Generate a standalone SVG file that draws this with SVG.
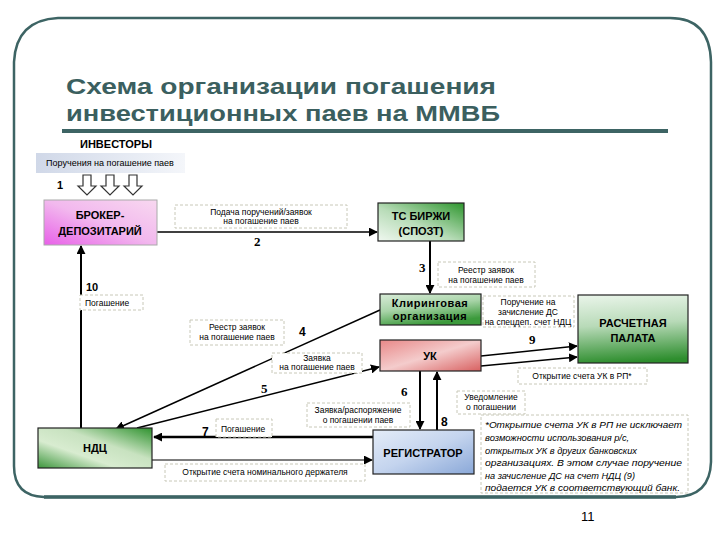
<svg xmlns="http://www.w3.org/2000/svg" width="720" height="540" viewBox="0 0 720 540">
<defs>
<style>
.t{font-family:"Liberation Sans",Arial,sans-serif;fill:#000}
.b{font-weight:bold}
.lbl{font-family:"Liberation Sans",Arial,sans-serif;font-size:8.5px;fill:#000;text-anchor:middle}
.dash{fill:#fff;stroke:#c8c8b8;stroke-width:1;stroke-dasharray:3,2}
.node{stroke:#222;stroke-width:1.2}
.num{font-family:"Liberation Serif","Times New Roman",serif;font-weight:bold;font-size:13px;fill:#000}
.c{fill:none;stroke:#000}
.note{font-family:"Liberation Sans",Arial,sans-serif;font-size:9.3px;font-style:italic;fill:#000}
.ttl{font-family:"Liberation Sans",Arial,sans-serif;font-weight:bold;font-size:22px;fill:#3b5f5f}
</style>
<marker id="ahb" viewBox="0 0 10 10" refX="9" refY="5" markerWidth="9" markerHeight="9" markerUnits="userSpaceOnUse" orient="auto"><path d="M0,0 L10,5 L0,10 z" fill="#000"/></marker>
<linearGradient id="gInv" x1="0" y1="0" x2="1" y2="0"><stop offset="0" stop-color="#d0d8e8"/><stop offset="1" stop-color="#f4f6fa"/></linearGradient>
<linearGradient id="gPink" x1="0" y1="1" x2="1" y2="0"><stop offset="0" stop-color="#e860e8"/><stop offset="0.5" stop-color="#f2b8ee"/><stop offset="1" stop-color="#f8d8f0"/></linearGradient>
<linearGradient id="gGreen1" x1="0" y1="1" x2="1" y2="0"><stop offset="0" stop-color="#f0f8f0"/><stop offset="0.45" stop-color="#b8dcb8"/><stop offset="1" stop-color="#2e962e"/></linearGradient>
<linearGradient id="gGreen2" x1="0" y1="0" x2="0.4" y2="1"><stop offset="0" stop-color="#d8ecd8"/><stop offset="0.5" stop-color="#a8d4a8"/><stop offset="1" stop-color="#3c9a3c"/></linearGradient>
<linearGradient id="gGreen3" x1="0.2" y1="0" x2="0.3" y2="1"><stop offset="0" stop-color="#e8f4e8"/><stop offset="0.45" stop-color="#b8dab8"/><stop offset="1" stop-color="#2e8e2e"/></linearGradient>
<linearGradient id="gNdc" x1="0" y1="1" x2="1" y2="0"><stop offset="0" stop-color="#3c963c"/><stop offset="0.35" stop-color="#d8ecd0"/><stop offset="0.6" stop-color="#c8e2c0"/><stop offset="1" stop-color="#2e922e"/></linearGradient>
<linearGradient id="gUk" x1="0" y1="0" x2="1" y2="1"><stop offset="0" stop-color="#e88888"/><stop offset="0.5" stop-color="#f4cccc"/><stop offset="1" stop-color="#d86060"/></linearGradient>
<linearGradient id="gReg" x1="0" y1="0" x2="1" y2="1"><stop offset="0" stop-color="#e4ecf8"/><stop offset="0.5" stop-color="#c4d4ee"/><stop offset="1" stop-color="#8aa8d8"/></linearGradient>
</defs>

<rect x="0" y="0" width="720" height="540" fill="#fff"/>
<!-- frame -->
<path d="M58,18 L670,18 Q710,18 711,62 L711,462 Q710,496 676,497 L44,497 Q14,496 14,466 L14,62 Q16,20 58,18 Z" fill="none" stroke="#3d6464" stroke-width="2.5"/>
<line x1="44" y1="497" x2="676" y2="497" stroke="#3d6464" stroke-width="3.5"/>

<!-- title -->
<g id="title">
<text class="ttl" x="66" y="94" textLength="430" lengthAdjust="spacingAndGlyphs">Схема организации погашения</text>
<text class="ttl" x="66" y="121" textLength="434" lengthAdjust="spacingAndGlyphs">инвестиционных паев на ММВБ</text>
<line x1="62" y1="131" x2="668" y2="131" stroke="#3d6464" stroke-width="4"/>
</g>

<!-- connectors -->
<g id="connectors">
<line class="c" x1="157" y1="232" x2="377" y2="232" stroke-width="1.5" marker-end="url(#ahb)"/>
<line class="c" x1="430" y1="241" x2="430" y2="293" stroke-width="2" marker-end="url(#ahb)"/>
<line class="c" x1="81" y1="428" x2="81" y2="246" stroke-width="2" marker-end="url(#ahb)"/>
<line class="c" x1="380" y1="310" x2="116" y2="429" stroke-width="1.5" marker-end="url(#ahb)"/>
<line class="c" x1="137" y1="428" x2="379" y2="367" stroke-width="1.5" marker-end="url(#ahb)"/>
<line class="c" x1="420" y1="371" x2="420" y2="429" stroke-width="2" marker-end="url(#ahb)"/>
<line class="c" x1="437" y1="430" x2="437" y2="372" stroke-width="2" marker-end="url(#ahb)"/>
<line class="c" x1="373" y1="437" x2="154" y2="437" stroke-width="2.5" marker-end="url(#ahb)"/>
<line class="c" x1="152" y1="460" x2="372" y2="460" stroke-width="1.2" marker-end="url(#ahb)"/>
<line class="c" x1="481" y1="356" x2="577" y2="346" stroke-width="1.5" marker-end="url(#ahb)"/>
<line class="c" x1="481" y1="366" x2="577" y2="357" stroke-width="1.5" marker-end="url(#ahb)"/>
<g fill="#fff" stroke="#333" stroke-width="1.2">
<path d="M83,175 L91,175 L91,186 L96,186 L87,195 L78,186 L83,186 Z"/>
<path d="M106,175 L114,175 L114,186 L119,186 L110,195 L101,186 L106,186 Z"/>
<path d="M129,175 L137,175 L137,186 L142,186 L133,195 L124,186 L129,186 Z"/>
</g>
</g>

<!-- labels -->
<g id="labels">
<text class="t b" x="80" y="148" font-size="11">ИНВЕСТОРЫ</text>
<rect x="36" y="153" width="149" height="20" fill="url(#gInv)"/>
<text class="t" x="110" y="166" font-size="9" text-anchor="middle">Поручения на погашение паев</text>
<text class="t b" x="57" y="189" font-size="11">1</text>

<rect class="dash" x="175" y="205" width="172" height="23"/>
<text class="lbl" x="261" y="215">Подача поручений/заявок</text>
<text class="lbl" x="261" y="224">на погашение паев</text>
<text class="num" x="254" y="246">2</text>

<text class="num" x="419" y="272">3</text>
<rect class="dash" x="438" y="262" width="97" height="25"/>
<text class="lbl" x="486" y="273">Реестр заявок</text>
<text class="lbl" x="486" y="283">на погашение паев</text>

<text class="t b" x="86" y="291" font-size="11">10</text>
<rect class="dash" x="80" y="295" width="63" height="15"/>
<text class="t" x="85" y="306" font-size="8.5">Погашение</text>

<rect class="dash" x="190" y="320" width="94" height="25"/>
<text class="lbl" x="237" y="330">Реестр заявок</text>
<text class="lbl" x="237" y="340">на погашение паев</text>
<text class="t b" x="299" y="336" font-size="12">4</text>

<rect class="dash" x="272" y="353" width="90" height="20"/>
<text class="lbl" x="317" y="361">Заявка</text>
<text class="lbl" x="317" y="370">на погашение паев</text>
<text class="num" x="261" y="393">5</text>

<text class="num" x="401" y="396">6</text>
<rect class="dash" x="307" y="403" width="103" height="24"/>
<text class="lbl" x="358" y="413">Заявка/распоряжение</text>
<text class="lbl" x="358" y="423">о погашении паев</text>

<rect class="dash" x="457" y="391" width="68" height="23"/>
<text class="lbl" x="491" y="400">Уведомление</text>
<text class="lbl" x="491" y="410">о погашении</text>
<text class="t b" x="441" y="426" font-size="12">8</text>

<text class="t b" x="202" y="436" font-size="12">7</text>
<rect class="dash" x="216" y="419" width="56" height="18"/>
<text class="t" x="221" y="432" font-size="8.5">Погашение</text>

<rect class="dash" x="165" y="464" width="200" height="17"/>
<text class="lbl" x="265" y="475">Открытие счета номинального держателя</text>

<rect class="dash" x="483" y="296" width="91" height="31"/>
<text class="lbl" x="528" y="305">Поручение на</text>
<text class="lbl" x="528" y="315">зачисление ДС</text>
<text class="lbl" x="528" y="325">на спецдеп. счет НДЦ</text>
<text class="num" x="529" y="344">9</text>

<rect class="dash" x="518" y="368" width="129" height="16"/>
<text class="lbl" x="582" y="379">Открытие счета УК в РП*</text>

<rect class="dash" x="481" y="415" width="207" height="78"/>
<text class="note" x="485" y="428" textLength="197" lengthAdjust="spacingAndGlyphs">*Открытие счета УК в РП не исключает</text>
<text class="note" x="485" y="441">возможности использования р/с,</text>
<text class="note" x="485" y="454" textLength="152" lengthAdjust="spacingAndGlyphs">открытых УК в других банковских</text>
<text class="note" x="485" y="466" textLength="197" lengthAdjust="spacingAndGlyphs">организациях. В этом случае поручение</text>
<text class="note" x="485" y="479" textLength="150" lengthAdjust="spacingAndGlyphs">на зачисление ДС на счет НДЦ (9)</text>
<text class="note" x="485" y="491" textLength="195" lengthAdjust="spacingAndGlyphs">подается УК в соответствующий банк.</text>

<text class="t" x="581" y="521" font-size="13">11</text>
</g>

<!-- nodes -->
<g id="broker">
<rect x="44" y="200" width="113" height="45" fill="url(#gPink)" stroke="#aaa" stroke-width="1"/>
<text class="t b" x="100" y="219" font-size="11" text-anchor="middle">БРОКЕР-</text>
<text class="t b" x="100" y="235" font-size="11" text-anchor="middle">ДЕПОЗИТАРИЙ</text>
</g>
<g id="ts">
<rect class="node" x="378" y="203" width="86" height="38" fill="url(#gGreen1)"/>
<text class="t b" x="421" y="220" font-size="11" text-anchor="middle">ТС БИРЖИ</text>
<text class="t b" x="421" y="235" font-size="11" text-anchor="middle">(СПОЗТ)</text>
</g>
<g id="clearing">
<rect class="node" x="380" y="294" width="101" height="31" fill="url(#gGreen2)"/>
<text class="t b" x="430" y="307" font-size="11" text-anchor="middle" letter-spacing="0.5">Клиринговая</text>
<text class="t b" x="430" y="320" font-size="11" text-anchor="middle" letter-spacing="0.5">организация</text>
</g>
<g id="rp">
<rect class="node" x="578" y="295" width="110" height="68" fill="url(#gGreen3)"/>
<text class="t b" x="633" y="327" font-size="11" text-anchor="middle">РАСЧЕТНАЯ</text>
<text class="t b" x="633" y="342" font-size="11" text-anchor="middle">ПАЛАТА</text>
</g>
<g id="uk">
<rect class="node" x="380" y="340" width="101" height="31" fill="url(#gUk)" stroke="#999"/>
<text class="t b" x="430" y="360" font-size="11" text-anchor="middle">УК</text>
</g>
<g id="ndc">
<rect class="node" x="38" y="428" width="114" height="40" fill="url(#gNdc)"/>
<text class="t b" x="95" y="452" font-size="11" text-anchor="middle">НДЦ</text>
</g>
<g id="registrar">
<rect class="node" x="373" y="430" width="101" height="44" fill="url(#gReg)"/>
<text class="t b" x="423" y="457" font-size="11" text-anchor="middle">РЕГИСТРАТОР</text>
</g>
</svg>
